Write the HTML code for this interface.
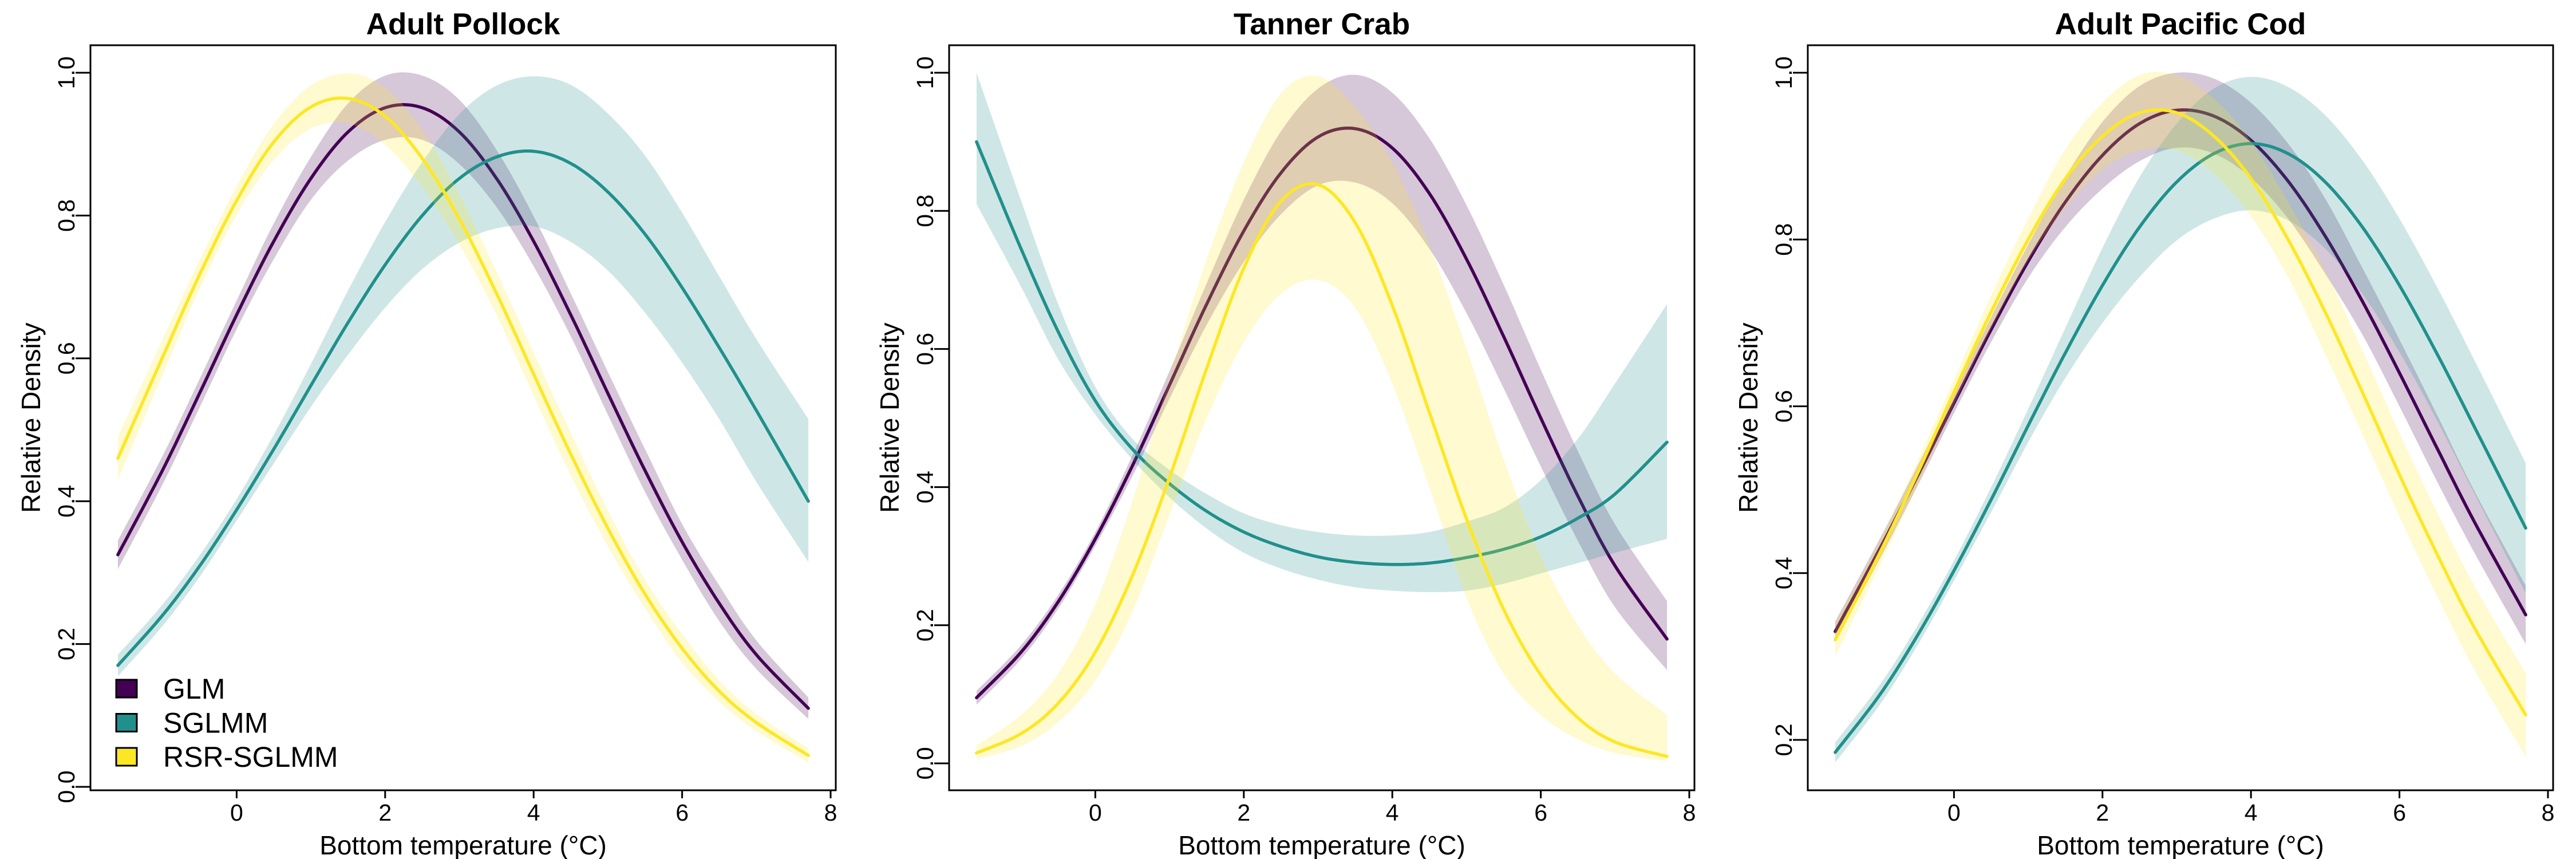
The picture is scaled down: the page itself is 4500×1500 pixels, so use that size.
<!DOCTYPE html>
<html><head><meta charset="utf-8">
<style>
html,body{margin:0;padding:0;background:#fff;}
svg{display:block;font-family:"Liberation Sans",Arial,sans-serif;}
</style></head>
<body>
<svg id="chart" width="4500" height="1500" viewBox="0 0 4500 1500" xmlns="http://www.w3.org/2000/svg"></svg>
<script>
// ---- data ----
const xGrid = [-1.6,-1.0,-0.5,0,0.5,1,1.5,2,2.5,3,3.5,4,4.5,5,5.5,6,6.5,7,7.7];
const xTicks = [0,2,4,6,8];
const panelTitles = ["Adult Pollock","Tanner Crab","Adult Pacific Cod"];
const yTicks1 = [0.0,0.2,0.4,0.6,0.8,1.0];
const yTicks2 = [0.0,0.2,0.4,0.6,0.8,1.0];
const yTicks3 = [0.2,0.4,0.6,0.8,1.0];
const seriesNames = ["GLM","SGLMM","RSR-SGLMM"];

// Adult Pollock
const p1GlmMean = [0.325,0.443,0.551,0.661,0.764,0.852,0.917,0.951,0.951,0.917,0.852,0.764,0.661,0.551,0.443,0.343,0.257,0.185,0.110];
const p1GlmUp   = [0.345,0.463,0.571,0.681,0.789,0.882,0.957,0.996,0.996,0.962,0.892,0.799,0.691,0.581,0.473,0.368,0.282,0.205,0.125];
const p1GlmLo   = [0.305,0.423,0.531,0.641,0.739,0.822,0.877,0.906,0.906,0.872,0.812,0.729,0.631,0.521,0.413,0.318,0.232,0.165,0.095];
const p1SgMean  = [0.170,0.240,0.309,0.388,0.473,0.562,0.650,0.731,0.800,0.852,0.882,0.890,0.873,0.833,0.774,0.699,0.615,0.527,0.400];
const p1SgUp    = [0.185,0.255,0.324,0.403,0.493,0.592,0.695,0.791,0.875,0.942,0.982,0.995,0.983,0.943,0.884,0.804,0.715,0.627,0.515];
const p1SgLo    = [0.155,0.225,0.294,0.373,0.453,0.532,0.605,0.671,0.725,0.762,0.782,0.785,0.763,0.723,0.664,0.594,0.515,0.427,0.315];
const p1RsMean  = [0.460,0.601,0.717,0.821,0.903,0.952,0.964,0.939,0.880,0.795,0.691,0.578,0.466,0.362,0.270,0.194,0.134,0.090,0.044];
const p1RsUp    = [0.490,0.626,0.737,0.841,0.928,0.982,0.999,0.979,0.920,0.830,0.721,0.608,0.496,0.387,0.290,0.214,0.149,0.102,0.054];
const p1RsLo    = [0.430,0.576,0.697,0.801,0.878,0.922,0.929,0.899,0.840,0.760,0.661,0.548,0.436,0.337,0.250,0.174,0.119,0.078,0.034];

// Tanner Crab
const p2GlmMean = [0.095,0.161,0.234,0.325,0.431,0.548,0.665,0.771,0.855,0.907,0.919,0.891,0.825,0.730,0.618,0.500,0.387,0.286,0.180];
const p2GlmUp   = [0.105,0.171,0.244,0.335,0.446,0.568,0.695,0.816,0.915,0.977,0.997,0.971,0.905,0.808,0.693,0.570,0.452,0.346,0.235];
const p2GlmLo   = [0.085,0.151,0.224,0.315,0.416,0.528,0.635,0.726,0.795,0.837,0.841,0.811,0.745,0.652,0.543,0.430,0.322,0.226,0.135];
const p2SgMean  = [0.900,0.745,0.625,0.525,0.455,0.405,0.365,0.335,0.314,0.299,0.291,0.288,0.290,0.298,0.310,0.328,0.355,0.390,0.465];
const p2SgUp    = [1.000,0.815,0.665,0.545,0.470,0.425,0.390,0.362,0.345,0.335,0.330,0.330,0.335,0.350,0.370,0.410,0.470,0.550,0.665];
const p2SgLo    = [0.810,0.690,0.585,0.505,0.440,0.385,0.340,0.305,0.282,0.266,0.255,0.250,0.248,0.250,0.260,0.275,0.290,0.305,0.325];
const p2RsMean  = [0.015,0.043,0.087,0.161,0.272,0.414,0.572,0.717,0.814,0.838,0.783,0.663,0.508,0.354,0.223,0.128,0.066,0.031,0.010];
const p2RsUp    = [0.026,0.070,0.130,0.230,0.380,0.560,0.730,0.870,0.970,0.995,0.950,0.870,0.750,0.600,0.440,0.300,0.200,0.130,0.070];
const p2RsLo    = [0.006,0.025,0.060,0.120,0.220,0.360,0.500,0.610,0.680,0.700,0.660,0.550,0.400,0.240,0.130,0.070,0.035,0.015,0.003];

// Adult Pacific Cod
const p3GlmMean = [0.330,0.429,0.515,0.604,0.692,0.774,0.845,0.901,0.939,0.955,0.948,0.919,0.870,0.804,0.726,0.640,0.551,0.463,0.350];
const p3GlmUp   = [0.342,0.441,0.527,0.616,0.707,0.794,0.875,0.941,0.984,1.000,0.993,0.964,0.915,0.849,0.766,0.680,0.591,0.500,0.385];
const p3GlmLo   = [0.318,0.417,0.503,0.592,0.677,0.754,0.815,0.861,0.894,0.910,0.903,0.874,0.825,0.759,0.686,0.600,0.511,0.426,0.315];
const p3SgMean  = [0.185,0.254,0.324,0.403,0.488,0.577,0.664,0.745,0.815,0.869,0.903,0.915,0.903,0.869,0.815,0.745,0.664,0.577,0.454];
const p3SgUp    = [0.197,0.266,0.336,0.415,0.503,0.597,0.694,0.790,0.875,0.939,0.981,0.995,0.983,0.949,0.895,0.825,0.744,0.657,0.532];
const p3SgLo    = [0.173,0.242,0.312,0.391,0.473,0.557,0.634,0.700,0.755,0.799,0.825,0.835,0.823,0.789,0.735,0.665,0.584,0.497,0.376];
const p3RsMean  = [0.320,0.424,0.518,0.617,0.713,0.800,0.873,0.924,0.952,0.952,0.924,0.873,0.800,0.713,0.617,0.518,0.424,0.336,0.230];
const p3RsUp    = [0.340,0.439,0.533,0.632,0.733,0.825,0.908,0.964,0.997,0.997,0.969,0.918,0.845,0.763,0.667,0.568,0.474,0.386,0.280];
const p3RsLo    = [0.300,0.409,0.503,0.602,0.693,0.775,0.838,0.884,0.907,0.907,0.879,0.828,0.755,0.663,0.567,0.468,0.374,0.286,0.180];

const colors = ["#440154","#21908C","#FDE725"];
const NS = "http://www.w3.org/2000/svg";
const svg = document.getElementById("chart");

function mk(tag, attrs, parent){
  const e = document.createElementNS(NS, tag);
  for (const k in attrs) e.setAttribute(k, attrs[k]);
  (parent||svg).appendChild(e);
  return e;
}
function smoothPts(xs, ys, fx, fy){
  const pts=[];
  const n=xs.length;
  for(let i=0;i<n-1;i++){
    const x0=xs[Math.max(0,i-1)], x1=xs[i], x2=xs[i+1], x3=xs[Math.min(n-1,i+2)];
    const y0=ys[Math.max(0,i-1)], y1=ys[i], y2=ys[i+1], y3=ys[Math.min(n-1,i+2)];
    const steps=12;
    for(let s=0;s<steps;s++){
      const t=s/steps, t2=t*t, t3=t2*t;
      const cr=(a,b,c,d)=>0.5*((2*b)+(-a+c)*t+(2*a-5*b+4*c-d)*t2+(-a+3*b-3*c+d)*t3);
      pts.push([fx(cr(x0,x1,x2,x3)), fy(cr(y0,y1,y2,y3))]);
    }
  }
  pts.push([fx(xs[n-1]), fy(ys[n-1])]);
  return pts;
}

const panels = [
  {title:panelTitles[0], ticks:yTicks1, yFor1:127, yFor0:1374, v0:0, v1:1, series:[[p1GlmMean,p1GlmLo,p1GlmUp],[p1SgMean,p1SgLo,p1SgUp],[p1RsMean,p1RsLo,p1RsUp]], legend:true},
  {title:panelTitles[1], ticks:yTicks2, yFor1:127, yFor0:1333, v0:0, v1:1, series:[[p2GlmMean,p2GlmLo,p2GlmUp],[p2SgMean,p2SgLo,p2SgUp],[p2RsMean,p2RsLo,p2RsUp]], legend:false},
  {title:panelTitles[2], ticks:yTicks3, yFor1:127, yFor0:1292, v0:0.2, v1:1, series:[[p3GlmMean,p3GlmLo,p3GlmUp],[p3SgMean,p3SgLo,p3SgUp],[p3RsMean,p3RsLo,p3RsUp]], legend:false}
];

panels.forEach((p, pi) => {
  const off = pi*1500;
  const L = off+158, R = off+1460, T = 79, B = 1380;
  const fx = v => off + 413.4 + v*129.7;
  const fy = v => p.yFor0 + (v - p.v0) * (p.yFor1 - p.yFor0) / (p.v1 - p.v0);
  const g = mk("g", {});
  
  

  const defs = mk("clipPath", {id:"clip"+pi}, g);
  mk("rect", {x:L, y:T, width:R-L, height:B-T}, defs);
  const plot = mk("g", {"clip-path":"url(#clip"+pi+")"}, g);
  
  

  p.series.forEach((s, si) => {
    const [mean, lo, up] = s;
    const upP = smoothPts(xGrid, up, fx, fy);
    const loP = smoothPts(xGrid, lo, fx, fy).reverse();
    const d = "M" + upP.concat(loP).map(q => q[0].toFixed(1)+","+q[1].toFixed(1)).join("L") + "Z";
    const band = mk("path", {d:d, fill:colors[si], "fill-opacity":0.22, stroke:"none"}, plot);
    
    
    const mP = smoothPts(xGrid, mean, fx, fy);
    const line = mk("path", {d:"M"+mP.map(q=>q[0].toFixed(1)+","+q[1].toFixed(1)).join("L"), fill:"none", stroke:colors[si], "stroke-width":5.5, "stroke-linejoin":"round", "stroke-linecap":"round"}, plot);
    
    
  });

  const box = mk("rect", {x:L, y:T, width:R-L, height:B-T, fill:"none", stroke:"#000", "stroke-width":3}, g);
  
  

  const xa = mk("g", {}, g);
  
  
  xTicks.forEach(t => {
    mk("line", {x1:fx(t), x2:fx(t), y1:B, y2:B+14, stroke:"#000", "stroke-width":3}, xa);
    const tl = mk("text", {x:fx(t), y:1433, "font-size":41, "text-anchor":"middle"}, xa);
    tl.textContent = t;
    
    
  });
  const xt = mk("text", {x:(L+R)/2, y:1492, "font-size":46, "text-anchor":"middle"}, g);
  xt.textContent = "Bottom temperature (\u00B0C)";
  
  

  const ya = mk("g", {}, g);
  
  
  p.ticks.forEach(t => {
    mk("line", {x1:L-26, x2:L, y1:fy(t), y2:fy(t), stroke:"#000", "stroke-width":3}, ya);
    const tl = mk("text", {"font-size":41, "text-anchor":"middle"}, ya);
    tl.setAttribute("transform", "translate("+(off+130)+","+fy(t).toFixed(1)+") rotate(-90)");
    tl.textContent = t.toFixed(1);
    
    
  });
  const yt = mk("text", {"font-size":46, "text-anchor":"middle", transform:"translate("+(off+70)+","+((T+B)/2)+") rotate(-90)"}, g);
  yt.textContent = "Relative Density";
  
  

  const tt = mk("text", {x:(L+R)/2, y:60, "font-size":53, "font-weight":"bold", "text-anchor":"middle"}, g);
  tt.textContent = p.title;
  
  

  if (p.legend) {
    const lg = mk("g", {}, g);
    
    
    seriesNames.forEach((nm, si) => {
      const y0 = 1187 + si*59.5;
      const ent = mk("g", {}, lg);
      
      
      mk("rect", {x:off+203, y:y0, width:36, height:31, fill:colors[si], stroke:"#000", "stroke-width":3}, ent);
      const lt = mk("text", {x:off+285, y:y0+33, "font-size":50}, ent);
      lt.textContent = nm;
    });
  }
});
</script>
</body></html>
